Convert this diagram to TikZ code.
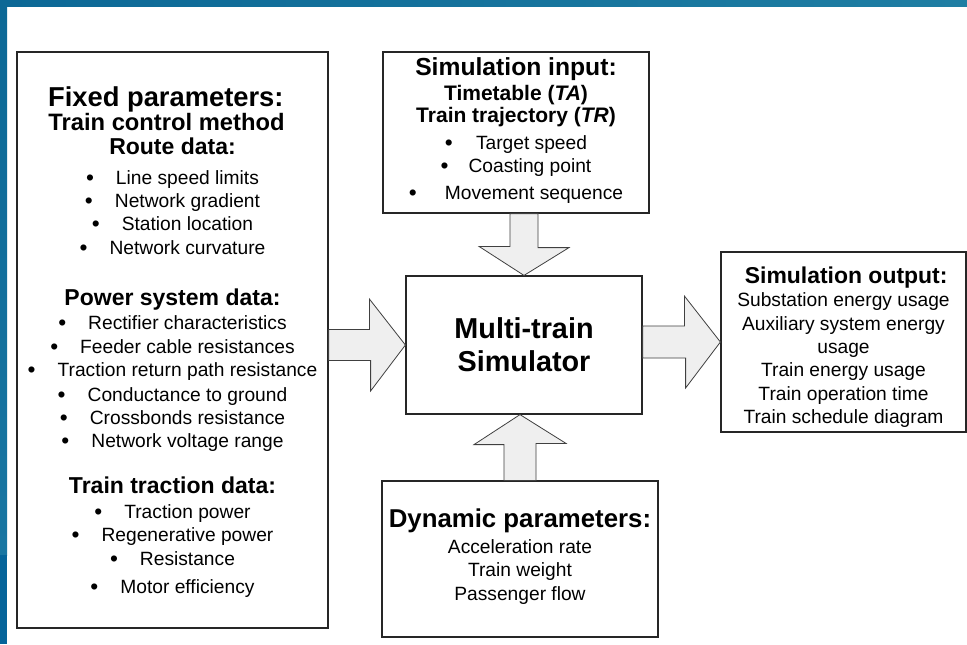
\documentclass[tikz,border=0pt]{standalone}
\usepackage{fontspec}
\setmainfont{Liberation Sans}
\usetikzlibrary{calc}

\definecolor{frameblue}{HTML}{0C6896}
\definecolor{frameblueb}{HTML}{1F7EA3}
\definecolor{frameglow}{HTML}{1976A2}
\definecolor{framedark}{HTML}{05649A}
\definecolor{boxline}{HTML}{262626}
\definecolor{arrowline}{HTML}{404040}
\definecolor{arrowfill}{HTML}{EFEFEF}

% bullet line and bold heading inside the boxes
\newcommand{\bitem}[2][16.5pt]{{\fontsize{17}{0}\selectfont\raisebox{-0.8pt}{\textbullet}}\hspace{#1}#2}
\newcommand{\hd}[2]{{\fontsize{#1}{17.5pt}\selectfont\bfseries #2}}

\begin{document}
\begin{tikzpicture}[x=0.75pt,y=-0.75pt,
    box/.style={draw=boxline,line width=0.9pt,fill=white,align=center,inner sep=2pt,
      font=\fontsize{14.4}{17.5}\selectfont},
    fatarrow/.style={draw=arrowline,fill=arrowfill,line width=0.6pt}]
  \useasboundingbox (0,0) rectangle (967,644);
  \fill[white] (0,0) rectangle (967,644);

  % slide frame
  \shade[left color=frameblue,right color=frameblueb] (0,0) rectangle (967,6);
  \shade[top color=frameblue,bottom color=frameglow] (0,0) rectangle (7,555);
  \fill[framedark] (0,555) rectangle (7,644);

  \node[box,minimum width=233.25pt,minimum height=432pt] (fixed) at (172.5,340) {%
    \rule{0pt}{18.6pt}\hd{20.5}{Fixed parameters:}\hspace{10pt}\mbox{}\\
    \hd{17.8}{Train control method}\hspace{9pt}\mbox{}\\[0.75pt]
    \hd{17.25}{Route data:}\\[4.75pt]
    \bitem{Line speed limits}\\
    \bitem{Network gradient}\\
    \bitem{Station location}\\
    \bitem{Network curvature}\\[21pt]
    \hd{17.25}{Power system data:}\\[0.75pt]
    \bitem{Rectifier characteristics}\\
    \bitem{Feeder cable resistances}\\
    \bitem{Traction return path resistance}\\[1pt]
    \bitem{Conductance to ground}\\
    \bitem{Crossbonds resistance}\\
    \bitem{Network voltage range}\\[17pt]
    \hd{17.25}{Train traction data:}\\[0.75pt]
    \bitem{Traction power}\\
    \bitem{Regenerative power}\\[0.75pt]
    \bitem{Resistance}\\[3.5pt]
    \bitem{Motor efficiency}};

  \node[box,minimum width=199.5pt,minimum height=120.75pt,text depth=6pt] (input) at (516,132.5) {%
    \hd{18.5}{Simulation input:}\\[1.8pt]
    \hd{15.75}{Timetable (\textit{TA})}\\[-1pt]
    \hd{15.75}{Train trajectory (\textit{TR})}\\[2.3pt]
    \bitem[17.3pt]{Target speed}\\
    \bitem[15pt]{Coasting point}\\[2.75pt]
    \bitem[21pt]{Movement sequence}};

  \node[box,minimum width=177pt,minimum height=103.5pt,
    font=\fontsize{21.6}{24.75}\selectfont\bfseries] (sim) at (524,345) {Multi-train\\Simulator};

  \node[box,minimum width=207pt,minimum height=117pt,text depth=6.5pt] (dyn) at (520,559) {%
    \hd{19.35}{Dynamic parameters:}\\[1.8pt]
    Acceleration rate\\
    Train weight\\[0.5pt]
    Passenger flow};

  \node[box,minimum width=183.75pt,minimum height=135pt] (output) at (843.5,342) {%
    \rule{0pt}{20.1pt}\hd{17.2}{Simulation output:}\hspace*{-4pt}\\
    Substation energy usage\\
    Auxiliary system energy\\
    usage\\
    Train energy usage\\
    Train operation time\\
    Train schedule diagram};

  % block arrows into and out of the simulator
  \draw[fatarrow] (sim.west) -- ++(-36,-46) -- ++(0,30.5)
    -- ($(fixed.east |- sim.west)+(0,-15.5)$) -- ++(0,31) -- ++(42,0) -- ++(0,30.5) -- cycle;
  \draw[fatarrow] (output.west) -- ++(-36,-46) -- ++(0,30)
    -- ($(sim.east |- output.west)+(0,-16)$) -- ++(0,32) -- ++(43,0) -- ++(0,30) -- cycle;
  \draw[fatarrow] (dyn.north |- sim.south) -- ++(-46,30) -- ++(30,0)
    -- ($(dyn.north)+(-16,0)$) -- ++(32,0) -- ++(0,-37) -- ++(30,0) -- cycle;
  \draw[fatarrow] (sim.north) -- ++(-45,-29) -- ++(31,0)
    -- ($(input.south -| sim.north)+(-14,0)$) -- ++(28,0) -- ++(0,34) -- ++(31,0) -- cycle;
\end{tikzpicture}
\end{document}
